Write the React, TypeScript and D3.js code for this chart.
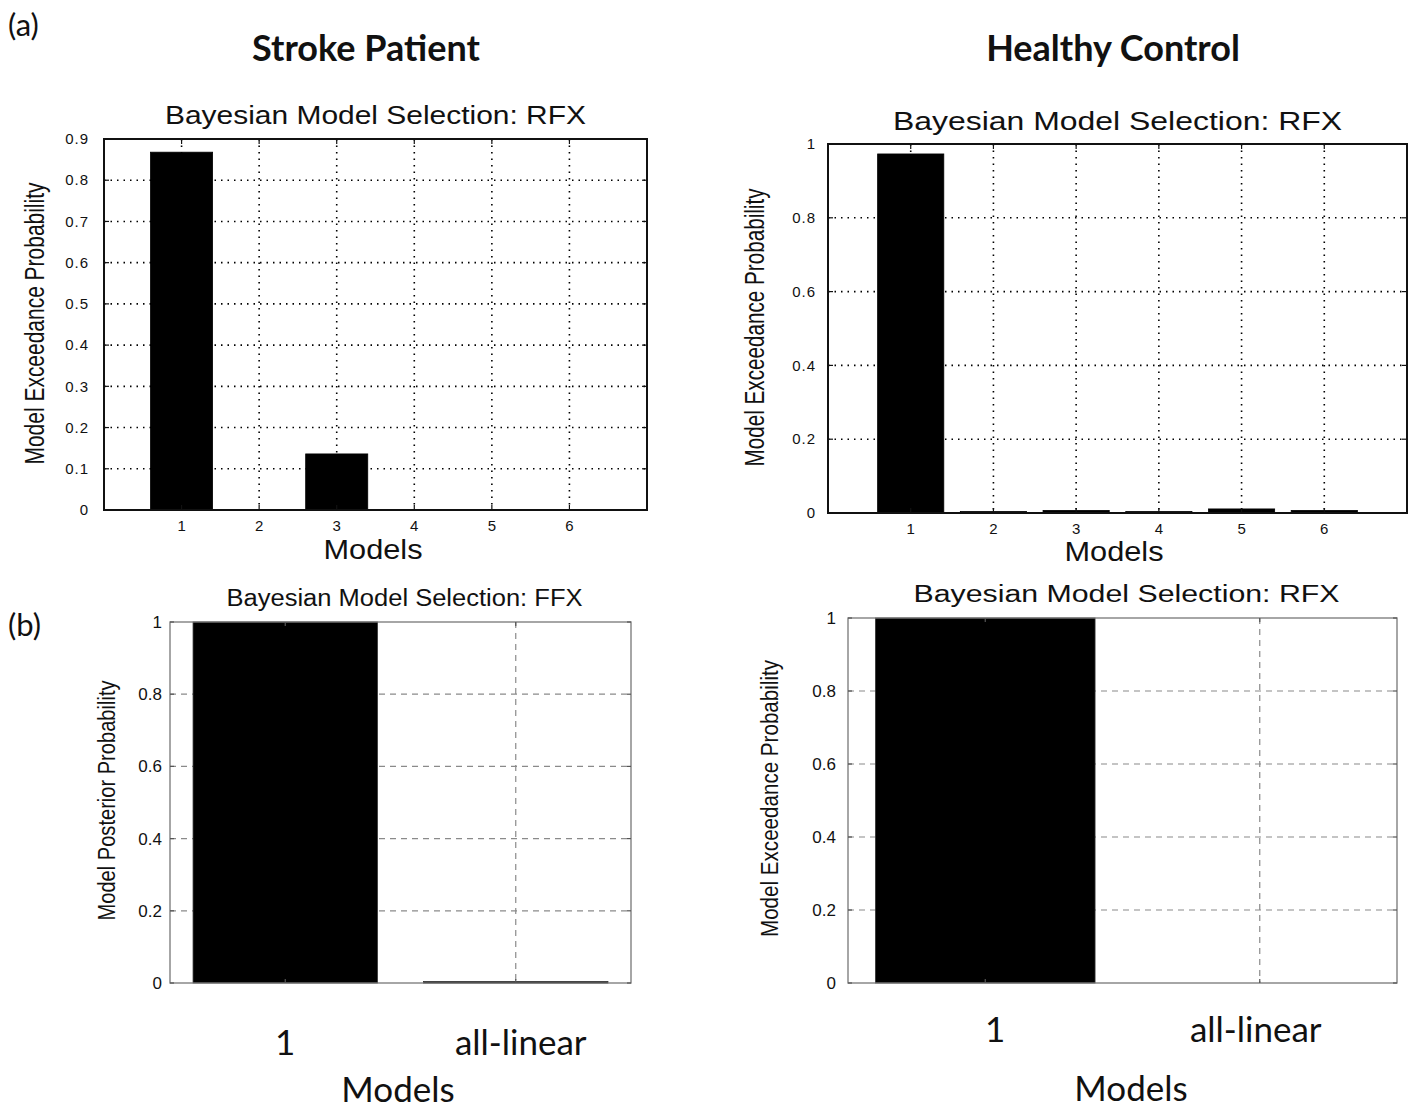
import { useEffect, useRef } from 'react'
import * as d3 from 'd3'

// values
const modelIds = [1, 2, 3, 4, 5, 6]
const strokeRfx = [0.868, 0, 0.136, 0, 0, 0]
const healthyRfx = [0.973, 0.004, 0.007, 0.004, 0.011, 0.007]
const familyIds = [1, 2]
const familyLabels = ['1', 'all-linear']
const strokeFfx = [1, 0.004]
const healthyFamilyRfx = [1, 0]
const ticksTenths = [0, 0.1, 0.2, 0.3, 0.4, 0.5, 0.6, 0.7, 0.8, 0.9]
const ticksFifths = [0, 0.2, 0.4, 0.6, 0.8, 1]

const W = 1414
const H = 1108
const MATLAB_FONT = '"Liberation Sans", Arial, sans-serif'
const OFFICE_FONT = 'Lato, "Open Sans", sans-serif'

type Panel = {
  box: { l: number; r: number; t: number; b: number }
  xDomain: [number, number]
  xIds: number[]
  xLabels: string[]
  xLabelShift: number[]
  values: number[]
  yDomain: [number, number]
  yTicks: number[]
  old: boolean
  title: string
  titleY: number
  titleLen: number
  ylabel: string
  ylabelX: number
  ylabelLen: number
  tickGap: number
  tickSize: number
  xLabelY: number
  modelsX: number
  modelsY: number
}

const panels: Panel[] = [
  {
    box: { l: 104, r: 647, t: 139, b: 510 },
    xDomain: [0, 7], xIds: modelIds, xLabels: modelIds.map(String), xLabelShift: [0, 0, 0, 0, 0, 0], values: strokeRfx,
    yDomain: [0, 0.9], yTicks: ticksTenths, old: true,
    title: 'Bayesian Model Selection: RFX', titleY: 124, titleLen: 421,
    ylabel: 'Model Exceedance Probability', ylabelX: 35, ylabelLen: 282,
    tickGap: 15, tickSize: 15, xLabelY: 531, modelsX: 373, modelsY: 559,
  },
  {
    box: { l: 828, r: 1407, t: 144, b: 513 },
    xDomain: [0, 7], xIds: modelIds, xLabels: modelIds.map(String), xLabelShift: [0, 0, 0, 0, 0, 0], values: healthyRfx,
    yDomain: [0, 1], yTicks: ticksFifths, old: true,
    title: 'Bayesian Model Selection: RFX', titleY: 130, titleLen: 449,
    ylabel: 'Model Exceedance Probability', ylabelX: 755, ylabelLen: 278,
    tickGap: 12, tickSize: 15, xLabelY: 534, modelsX: 1114, modelsY: 561,
  },
  {
    box: { l: 170, r: 631, t: 622, b: 983 },
    xDomain: [0.5, 2.5], xIds: familyIds, xLabels: familyLabels, xLabelShift: [0, 5], values: strokeFfx,
    yDomain: [0, 1], yTicks: ticksFifths, old: false,
    title: 'Bayesian Model Selection: FFX', titleY: 606, titleLen: 356,
    ylabel: 'Model Posterior Probability', ylabelX: 107, ylabelLen: 240,
    tickGap: 8, tickSize: 17, xLabelY: 1055, modelsX: 398, modelsY: 1102,
  },
  {
    box: { l: 848, r: 1397, t: 618, b: 983 },
    xDomain: [0.5, 2.5], xIds: familyIds, xLabels: familyLabels, xLabelShift: [10, -4], values: healthyFamilyRfx,
    yDomain: [0, 1], yTicks: ticksFifths, old: false,
    title: 'Bayesian Model Selection: RFX', titleY: 602, titleLen: 426,
    ylabel: 'Model Exceedance Probability', ylabelX: 770, ylabelLen: 277,
    tickGap: 12, tickSize: 17, xLabelY: 1042, modelsX: 1131, modelsY: 1101,
  },
]

function drawPanel(svg: d3.Selection<SVGSVGElement, unknown, null, undefined>, p: Panel) {
  const { l, r, t, b } = p.box
  const x = d3.scaleLinear().domain(p.xDomain).range([l, r])
  const y = d3.scaleLinear().domain(p.yDomain).range([b, t])
  const unit = x(1) - x(0)
  const g = svg.append('g')

  const gridColor = p.old ? '#000' : '#8a8a8a'
  const dash = p.old ? '1.5,5' : '6,5'

  // grid
  g.selectAll('line.gy')
    .data(p.yTicks.filter((d) => d > p.yDomain[0] && d < p.yDomain[1]))
    .join('line')
    .attr('x1', l).attr('x2', r)
    .attr('y1', (d) => y(d)).attr('y2', (d) => y(d))
    .attr('stroke', gridColor).attr('stroke-width', p.old ? 1.6 : 1.2)
    .attr('stroke-dasharray', dash)
  g.selectAll('line.gx')
    .data(p.xIds)
    .join('line')
    .attr('x1', (d) => x(d)).attr('x2', (d) => x(d))
    .attr('y1', t).attr('y2', b)
    .attr('stroke', gridColor).attr('stroke-width', p.old ? 1.6 : 1.2)
    .attr('stroke-dasharray', dash)

  // bars (MATLAB default width 0.8)
  g.selectAll('rect.bar')
    .data(p.xIds.map((id, i) => ({ id, v: p.values[i] })).filter((d) => d.v > 0))
    .join('rect')
    .attr('x', (d) => x(d.id - 0.4))
    .attr('width', unit * 0.8)
    .attr('y', (d) => y(d.v))
    .attr('height', (d) => Math.max(1.5, y(0) - y(d.v)))
    .attr('fill', '#000')
    .attr('stroke', p.old ? '#000' : '#333')
    .attr('stroke-width', 0.8)

  // box
  g.append('rect')
    .attr('x', l).attr('y', t).attr('width', r - l).attr('height', b - t)
    .attr('fill', 'none')
    .attr('stroke', p.old ? '#111' : '#777')
    .attr('stroke-width', p.old ? 2 : 1.3)

  // inward tick marks
  const tl = p.old ? 5 : 4
  const tickColor = p.old ? '#111' : '#555'
  p.yTicks.forEach((d) => {
    g.append('line').attr('x1', l).attr('x2', l + tl).attr('y1', y(d)).attr('y2', y(d)).attr('stroke', tickColor).attr('stroke-width', 1.2)
    g.append('line').attr('x1', r).attr('x2', r - tl).attr('y1', y(d)).attr('y2', y(d)).attr('stroke', tickColor).attr('stroke-width', 1.2)
  })
  p.xIds.forEach((d) => {
    g.append('line').attr('x1', x(d)).attr('x2', x(d)).attr('y1', b).attr('y2', b - tl).attr('stroke', tickColor).attr('stroke-width', 1.2)
    g.append('line').attr('x1', x(d)).attr('x2', x(d)).attr('y1', t).attr('y2', t + tl).attr('stroke', tickColor).attr('stroke-width', 1.2)
  })

  // y tick labels
  g.selectAll('text.yt')
    .data(p.yTicks)
    .join('text')
    .attr('x', l - p.tickGap)
    .attr('y', (d) => y(d))
    .attr('dy', '0.35em')
    .attr('text-anchor', 'end')
    .attr('font-family', MATLAB_FONT)
    .attr('font-size', p.tickSize)
    .attr('letter-spacing', p.old ? 1 : 0)
    .attr('fill', '#111')
    .text((d) => String(d))

  // x tick labels
  g.selectAll('text.xt')
    .data(p.xIds)
    .join('text')
    .attr('x', (d, i) => x(d) + p.xLabelShift[i])
    .attr('y', p.xLabelY)
    .attr('text-anchor', 'middle')
    .attr('font-family', p.old ? MATLAB_FONT : OFFICE_FONT)
    .attr('font-size', p.old ? 15 : 35)
    .attr('fill', '#111')
    .text((d, i) => p.xLabels[i])

  // x label
  const models = g.append('text')
    .attr('x', p.modelsX)
    .attr('y', p.modelsY)
    .attr('text-anchor', 'middle')
    .attr('font-family', p.old ? MATLAB_FONT : OFFICE_FONT)
    .attr('font-size', p.old ? 27 : 35)
    .attr('fill', '#111')
    .text('Models')
  if (p.old) models.attr('textLength', 99).attr('lengthAdjust', 'spacingAndGlyphs')

  // title
  g.append('text')
    .attr('x', (l + r) / 2 + (p.old ? 0 : 4))
    .attr('y', p.titleY)
    .attr('text-anchor', 'middle')
    .attr('font-family', MATLAB_FONT)
    .attr('font-size', p.old ? 25 : 23)
    .attr('textLength', p.titleLen)
    .attr('lengthAdjust', 'spacingAndGlyphs')
    .attr('fill', '#111')
    .text(p.title)

  // y label (condensed)
  const cy = (t + b) / 2 + (p.old ? -1 : -2)
  g.append('text')
    .attr('transform', `translate(${p.ylabelX},${cy}) rotate(-90)`)
    .attr('text-anchor', 'middle')
    .attr('dy', '0.35em')
    .attr('font-family', MATLAB_FONT)
    .attr('font-size', p.old ? 27 : 23)
    .attr('textLength', p.ylabelLen)
    .attr('lengthAdjust', 'spacingAndGlyphs')
    .attr('fill', '#111')
    .text(p.ylabel)
}

export default function App() {
  const ref = useRef<SVGSVGElement>(null)

  useEffect(() => {
    const el = ref.current
    if (!el) return
    const svg = d3.select(el)
    svg.selectAll('*').remove()

    svg.append('rect').attr('width', W).attr('height', H).attr('fill', '#fff')

    panels.forEach((p) => drawPanel(svg, p))

    // panel letters and group headers
    const head = [
      { text: '(a)', x: 8, y: 36, anchor: 'start', bold: false },
      { text: '(b)', x: 8, y: 636, anchor: 'start', bold: false },
      { text: 'Stroke Patient', x: 366, y: 61, anchor: 'middle', bold: true },
      { text: 'Healthy Control', x: 1113, y: 61, anchor: 'middle', bold: true },
    ]
    svg.selectAll('text.head')
      .data(head)
      .join('text')
      .attr('x', (d) => d.x)
      .attr('y', (d) => d.y)
      .attr('text-anchor', (d) => d.anchor)
      .attr('font-family', OFFICE_FONT)
      .attr('font-weight', (d) => (d.bold ? 700 : 400))
      .attr('font-size', (d) => (d.bold ? 36 : 31))
      .attr('fill', '#111')
      .text((d) => d.text)
  }, [])

  return (
    <div style={{ position: 'absolute', left: 0, top: 0 }}>
      <svg ref={ref} width={W} height={H} style={{ display: 'block' }} />
    </div>
  )
}
